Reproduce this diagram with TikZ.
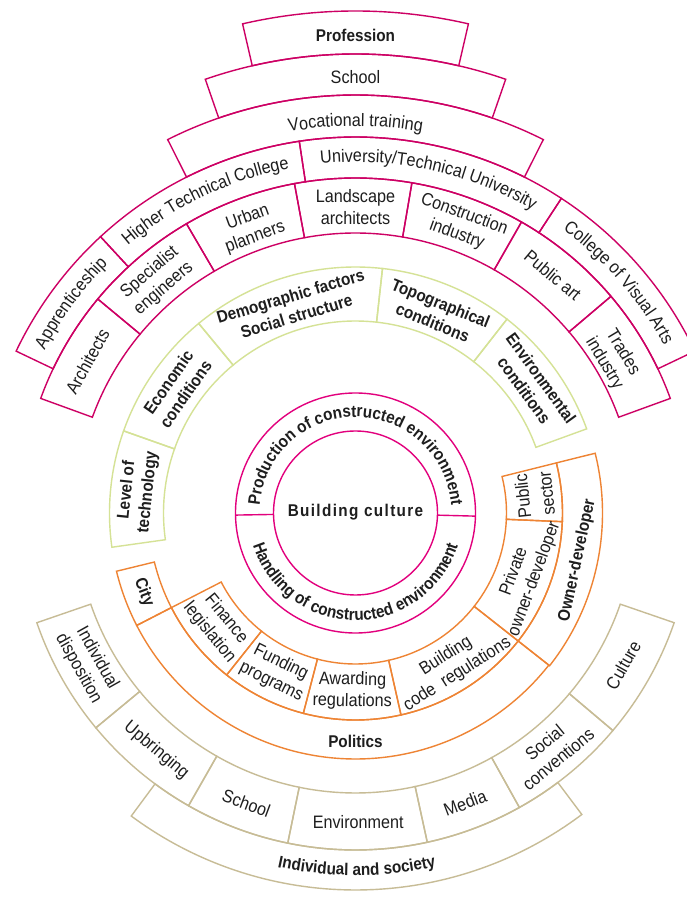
\documentclass[tikz,border=0pt]{standalone}
\usepackage{fontspec}
\setmainfont{Liberation Sans}[FakeStretch=0.9]
\usetikzlibrary{decorations.text}
\definecolor{mag}{RGB}{205,0,100}
\definecolor{magi}{RGB}{226,0,125}
\definecolor{grn}{RGB}{213,226,150}
\definecolor{org}{RGB}{238,132,52}
\definecolor{tan}{RGB}{199,188,150}
\definecolor{txt}{RGB}{30,30,30}
\newcommand{\ringseg}[5]{\draw[#5] (#1:#3pt) arc[start angle=#1, end angle=#2, radius=#3pt] -- (#2:#4pt) arc[start angle=#2, end angle=#1, radius=#4pt] -- cycle;}
\newcommand{\arctext}[5]{\path[decorate, decoration={text along path, text align=center, text={#5}}] (#1:#3pt) arc[start angle=#1, end angle=#2, radius=#3pt];}
\begin{document}
\begin{tikzpicture}[x=1pt,y=1pt, line join=miter,
  lbl/.style={font=\fontsize{18}{21.5}\selectfont, align=center, inner sep=0pt, text=txt},
  blbl/.style={font=\fontsize{17}{21}\selectfont\bfseries, align=center, inner sep=0pt, text=txt},
  mg/.style={draw=mag, line width=1.4pt},
  mgi/.style={draw=magi, line width=1.4pt},
  gr/.style={draw=grn, line width=1.4pt},
  og/.style={draw=org, line width=1.4pt},
  tn/.style={draw=tan, line width=1.4pt}]
\useasboundingbox (-355.5,-407) rectangle (331.5,513);
\fill[white] (-355.5,-407) rectangle (331.5,513);

% ---------- magenta outer structure ----------
\ringseg{20}{40.3}{280}{335}{mg}
\ringseg{40.3}{60.3}{280}{335}{mg}
\ringseg{60.3}{80.3}{280}{335}{mg}
\ringseg{80.3}{100.5}{280}{335}{mg}
\ringseg{100.5}{120.3}{280}{335}{mg}
\ringseg{120.3}{140.3}{280}{335}{mg}
\ringseg{140.3}{160}{280}{335}{mg}
\ringseg{25.5}{56.8}{335}{376}{mg}
\ringseg{56.8}{98.6}{335}{376}{mg}
\ringseg{98.6}{132.7}{335}{376}{mg}
\ringseg{132.7}{154.5}{335}{376}{mg}
\ringseg{63.3}{116.7}{376}{418}{mg}
\ringseg{70.9}{109.1}{418}{459}{mg}
\ringseg{77}{103}{459}{502}{mg}

% ---------- inner circle ----------
\draw[mgi] (0,0) circle[radius=82pt];
\draw[mgi] (0,0) circle[radius=120pt];
\draw[mgi] (181:82pt) -- (181:120pt);
\draw[mgi] (-1.5:82pt) -- (-1.5:120pt);

% ---------- green ----------
\ringseg{20}{52}{192}{246}{gr}
\ringseg{52}{83.7}{192}{246}{gr}
\ringseg{83.7}{129.6}{192}{246}{gr}
\ringseg{129.6}{160.5}{192}{246}{gr}
\ringseg{160.5}{188}{192}{246}{gr}

% ---------- orange ----------
\ringseg{193.7}{207.2}{207}{246}{og}
\ringseg{207.2}{321.8}{207}{246}{og}
\ringseg{321.8}{374}{207}{247}{og}
\ringseg{207.2}{231.5}{151}{207}{og}
\ringseg{231.5}{255.4}{151}{207}{og}
\ringseg{255.4}{282.7}{151}{207}{og}
\ringseg{282.7}{321.8}{151}{207}{og}
\ringseg{321.8}{357.6}{151}{207}{og}
\ringseg{357.6}{374}{151}{207}{og}

% ---------- tan ----------
\ringseg{199}{219.6}{280}{337}{tn}
\ringseg{219.6}{240.3}{280}{337}{tn}
\ringseg{240.3}{258.4}{280}{337}{tn}
\ringseg{258.4}{282.3}{280}{337}{tn}
\ringseg{282.3}{299.1}{280}{337}{tn}
\ringseg{299.1}{319.8}{280}{337}{tn}
\ringseg{319.8}{341}{280}{337}{tn}
\ringseg{233.5}{306.9}{337}{377}{tn}

% ---------- texts: top ----------
\node[blbl] (prof) at (90:478pt) {Profession};
\node[lbl] (school1) at (90:436pt) {School};
\arctext{116.7}{63.3}{387}{}{|\color{txt}\fontsize{18}{21}\selectfont|Vocational training}
\arctext{132.7}{98.6}{351}{}{|\color{txt}\fontsize{18}{21}\selectfont|Higher Technical College}
\arctext{98.6}{56.8}{351}{}{|\color{txt}\fontsize{18}{21}\selectfont|University/Technical University}
\arctext{56.8}{25.5}{351}{}{|\color{txt}\fontsize{18}{21}\selectfont|College of Visual Arts}
\arctext{154.5}{132.7}{351}{}{|\color{txt}\fontsize{18}{21}\selectfont|Apprenticeship}

\node[lbl, rotate=61] (arch) at (150.5:308pt) {Architects};
\node[lbl, rotate=40.5] (spec) at (130.5:306pt) {Specialist\\engineers};
\node[lbl, rotate=20] (urban) at (110:304pt) {Urban\\planners};
\node[lbl] (land) at (90:306pt) {Landscape\\architects};
\node[lbl, rotate=-20] (constr) at (70:307pt) {Construction\\industry};
\node[lbl, rotate=-40] (pubart) at (50.3:309pt) {Public art};
\node[lbl, rotate=-59] (trades) at (31:301pt) {Trades\\industry};

% ---------- green texts ----------
\node[blbl, rotate=84] (lvl) at (174.3:219pt) {Level of\\technology};
\node[blbl, rotate=55] (econ) at (145:218pt) {Economic\\conditions};
\node[blbl, rotate=16.7] (demo) at (106.7:216pt) {Demographic factors\\Social structure};
\node[blbl, rotate=-22] (topo) at (67.9:216pt) {Topographical\\conditions};
\node[blbl, rotate=-54] (envc) at (36:219pt) {Environmental\\conditions};

% ---------- center ----------
\node[font=\fontsize{17}{20}\selectfont\bfseries\addfontfeature{LetterSpace=8}, text=txt] (bc) at (0,1) {Building culture};
\arctext{180}{0}{96}{}{|\color{txt}\fontsize{17}{20}\selectfont\bfseries|Production of constructed environment}
\arctext{185}{355}{107.5}{}{|\color{txt}\fontsize{17}{20}\selectfont\bfseries|Handling of constructed environment}

% ---------- orange texts ----------
\node[blbl, rotate=-69.5] (city) at (200.5:226pt) {City};
\node[lbl, rotate=-50.8] (fin) at (219.3:178pt) {Finance\\legislation};
\node[lbl, rotate=-26.5] (fund) at (243.5:178pt) {Funding\\programs};
\node[lbl, rotate=-1] (award) at (269:178pt) {Awarding\\regulations};
\node[lbl, rotate=32.3] (bcode) at (302.3:180pt) {Building\\code\ \ regulations};
\node[lbl, rotate=69.7] (priv) at (-20.3:180pt) {Private\\owner-developer};
\node[lbl, rotate=96, font=\fontsize{18}{24}\selectfont] (pubsec) at (5.8:180pt) {Public\\sector};
\node[blbl, rotate=77.9] (owner) at (-12.1:227pt) {Owner-developer};
\node[blbl] (pol) at (270:228pt) {Politics};

% ---------- tan texts ----------
\node[lbl, rotate=-60.7] (indiv) at (209.3:307pt) {Individual\\disposition};
\node[lbl, rotate=-40] (upbr) at (230:310pt) {Upbringing};
\node[lbl, rotate=-20.6] (school2) at (249.4:310pt) {School};
\node[lbl, rotate=0.3] (envi) at (270.5:309pt) {Environment};
\node[lbl, rotate=20.7] (media) at (290.7:310pt) {Media};
\node[lbl, rotate=39.5] (social) at (309.5:308pt) {Social\\conventions};
\node[lbl, rotate=60.4] (cult) at (330.4:308pt) {Culture};
\arctext{233.5}{306.9}{362.5}{}{|\color{txt}\fontsize{17}{20}\selectfont\bfseries|Individual and society}
\end{tikzpicture}
\end{document}
